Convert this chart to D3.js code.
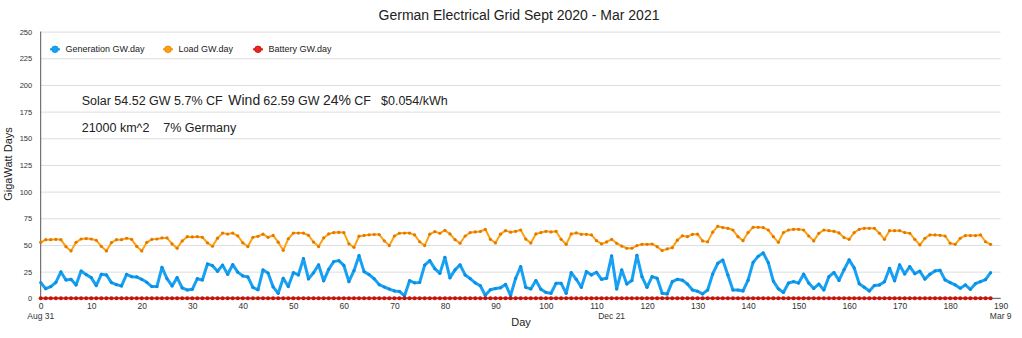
<!DOCTYPE html>
<meta charset="utf-8">
<style>
body { margin: 0; background: #fff; }
text { font-family: "Liberation Sans", Arial, Helvetica, sans-serif; fill: #222; }
.grid line { stroke: #dedede; stroke-width: 1px; }
.axis-line { stroke: #555; stroke-width: 1px; }
.tick text { fill: #333; }
</style>
<body>
<div id="chart"></div>
<script src="https://cdn.jsdelivr.net/npm/d3@7"></script>
<script>

// daily energy, GW.day, from Aug 31 (day 0)
var generation = [
  14.7, 9, 11, 15, 24.7, 17.2, 17.8, 12.5, 25.6, 22.2,
  19.4, 11.9, 22.5, 21.9, 14.7, 12.8, 11.6, 22.5, 20.3, 20,
  17.8, 15, 11, 11, 29, 18.4, 11.6, 19.4, 9.7, 7.8,
  8.4, 18.4, 17.2, 32.2, 30.6, 25.3, 31.1, 22.5, 31.5, 24.5,
  21, 20, 10.2, 8, 26.6, 23.7, 10.7, 4.7, 18.8, 11,
  24, 21.9, 37.2, 18.2, 23.9, 31.3, 16.4, 27.2, 34.4, 35.3,
  30.8, 15.6, 25.9, 40, 25, 22.2, 18.3, 12.8, 10.6, 8.7,
  6.9, 6.4, 2.2, 16.5, 14.5, 14.8, 31.1, 35.3, 27.8, 23.4,
  38.4, 19.2, 26.6, 31.4, 21.9, 18.5, 14.5, 11.8, 2.8, 8.1,
  9.1, 9.8, 13, 2.6, 18.8, 29.7, 10.3, 8.8, 16.6, 8.4,
  5.5, 4.7, 14, 14, 4.7, 24, 17.8, 10.3, 25, 21.9,
  24.4, 17.8, 18.8, 39.7, 8.8, 26.6, 13.4, 16.6, 40.3, 20.3,
  10.3, 20.3, 18.8, 4.7, 4.1, 15.6, 17.8, 17, 13.4, 7.8,
  6.6, 4.1, 7.8, 22.8, 32.8, 35.9, 21.9, 7.8, 7.8, 6.9,
  17, 33.7, 39.3, 42.5, 33.4, 16.1, 8.9, 5.5, 14.3, 15.6,
  14.3, 22.6, 14.3, 9.2, 13.4, 7.8, 20.3, 24.2, 16.8, 26.8,
  36, 28.5, 13.7, 10.3, 6.9, 12, 12.5, 15.6, 28.1, 16.4,
  31.3, 22.8, 29.7, 23.1, 25.4, 18, 22.6, 25.7, 26.2, 17.2,
  14.7, 12.5, 9.4, 12.5, 8.4, 13.7, 15.6, 17.5, 24
];

var load = [
  52.5, 55, 55, 55.3, 55, 48.4, 44.4, 52.5, 55.6, 56,
  55.6, 54.4, 48.7, 44.4, 52.2, 55, 55, 56.3, 55.3, 48.7,
  44.4, 52.5, 55.3, 55.6, 56.6, 56.6, 51, 46.9, 53.8, 57.8,
  57.5, 57.8, 57.2, 52, 48.8, 56.4, 61.1, 60.2, 61.1, 58.6,
  52, 48.5, 57.2, 58.1, 60.1, 57.2, 58.9, 52.6, 45, 55.8,
  61.1, 61.1, 61.1, 59.1, 52.7, 48.5, 56.6, 60.3, 61.6, 61.8,
  61.6, 51.1, 47.8, 58.2, 58.9, 59.5, 59.8, 59.8, 53.9, 49.4,
  58.4, 61, 61.1, 61.1, 59.4, 53, 49.4, 60.1, 62.5, 61,
  63.7, 60.3, 55, 51.6, 58.4, 61.6, 62.2, 62.6, 64.7, 55.3,
  51.9, 60.1, 63.4, 62, 62.8, 64, 55.5, 51.8, 60.3, 61.6,
  62.8, 62.2, 62.8, 55.3, 50.6, 60.3, 61.3, 60, 60, 59.4,
  54, 51, 52.8, 55.3, 51.6, 49, 46.9, 46.9, 49.4, 50.6,
  50.6, 50.9, 48.4, 44.7, 46.3, 47.5, 54.5, 58.6, 57.8, 60,
  60.1, 53.8, 52.9, 62, 67.5, 66.3, 65.6, 64, 57.8, 54,
  61.6, 66.6, 66.6, 66.3, 64, 57.8, 52.5, 61.6, 64, 64.7,
  64.7, 64, 58.4, 53.8, 60.9, 64, 63.4, 62.8, 61.3, 56.9,
  55.3, 61.6, 64.7, 65.6, 65.6, 65.6, 61, 55.3, 63.4, 63.4,
  63.4, 61.6, 61, 55.3, 50, 56.3, 59.4, 59.4, 59, 58.4,
  51.6, 50.6, 56.3, 58.8, 58.8, 58.8, 59.4, 53, 50.6
];

var battery = [
  0, 0, 0, 0, 0, 0, 0, 0, 0, 0, 0, 0, 0, 0, 0, 0, 0, 0, 0, 0,
  0, 0, 0, 0, 0, 0, 0, 0, 0, 0, 0, 0, 0, 0, 0, 0, 0, 0, 0, 0,
  0, 0, 0, 0, 0, 0, 0, 0, 0, 0, 0, 0, 0, 0, 0, 0, 0, 0, 0, 0,
  0, 0, 0, 0, 0, 0, 0, 0, 0, 0, 0, 0, 0, 0, 0, 0, 0, 0, 0, 0,
  0, 0, 0, 0, 0, 0, 0, 0, 0, 0, 0, 0, 0, 0, 0, 0, 0, 0, 0, 0,
  0, 0, 0, 0, 0, 0, 0, 0, 0, 0, 0, 0, 0, 0, 0, 0, 0, 0, 0, 0,
  0, 0, 0, 0, 0, 0, 0, 0, 0, 0, 0, 0, 0, 0, 0, 0, 0, 0, 0, 0,
  0, 0, 0, 0, 0, 0, 0, 0, 0, 0, 0, 0, 0, 0, 0, 0, 0, 0, 0, 0,
  0, 0, 0, 0, 0, 0, 0, 0, 0, 0, 0, 0, 0, 0, 0, 0, 0, 0, 0, 0,
  0, 0, 0, 0, 0, 0, 0, 0, 0
];

var seriesNames = ["Generation GW.day", "Load GW.day", "Battery GW.day"];
var xTicks = d3.range(0, 191, 10);
var yTicks = d3.range(0, 251, 25);
var dateLabels = [[0, "Aug 31"], [113, "Dec 21"], [190, "Mar 9"]];

var width = 1022, height = 338;
var margin = { top: 31.6, right: 21.3, bottom: 39.7, left: 40.7 };
var chartWidth = width - margin.left - margin.right;
var chartHeight = height - margin.top - margin.bottom;

var series = [
  { name: seriesNames[0], values: generation, line: "#17a1f4", dot: "#0b8ee0", lw: 3, r: 1.6 },
  { name: seriesNames[1], values: load, line: "#ffa10d", dot: "#e27800", lw: 2, r: 1.6 },
  { name: seriesNames[2], values: battery, line: "#e8261c", dot: "#c0140c", lw: 2, r: 2 }
];

var svg = d3.select("#chart").append("svg")
    .attr("width", width)
    .attr("height", height);

var g = svg.append("g")
    .attr("transform", "translate(" + margin.left + "," + margin.top + ")");

var x = d3.scaleLinear().domain([0, 190]).range([0, chartWidth]);
var y = d3.scaleLinear().domain([0, 250]).range([chartHeight, 0]);

// horizontal grid + y labels
var yAxis = g.append("g")
    .attr("class", "grid")
    .call(d3.axisLeft(y).tickValues(yTicks).tickSize(-chartWidth).tickPadding(8.5));
yAxis.select(".domain").remove();
yAxis.selectAll("text").style("font-size", "7.5px");

// x labels
var xAxis = g.append("g")
    .attr("transform", "translate(0," + chartHeight + ")")
    .call(d3.axisBottom(x).tickValues(xTicks).tickSize(0).tickPadding(5));
xAxis.select(".domain").remove();
xAxis.selectAll("text").style("font-size", "8.5px");

g.selectAll(".date-label")
    .data(dateLabels)
  .enter().append("text")
    .attr("class", "date-label")
    .attr("x", function(d) { return x(d[0]); })
    .attr("y", chartHeight + 20.5)
    .attr("text-anchor", "middle")
    .style("font-size", "8.5px")
    .style("fill", "#333")
    .text(function(d) { return d[1]; });

// axis lines
g.append("line").attr("class", "axis-line")
    .attr("x1", 0).attr("x2", 0).attr("y1", 0).attr("y2", chartHeight);
g.append("line").attr("class", "axis-line")
    .attr("x1", 0).attr("x2", chartWidth).attr("y1", chartHeight).attr("y2", chartHeight);

// lines and dots, battery drawn last so it sits on the axis
var line = d3.line()
    .x(function(d, i) { return x(i); })
    .y(function(d) { return y(d); });

series.forEach(function(s) {
    g.append("path")
        .datum(s.values)
        .attr("fill", "none")
        .attr("stroke", s.line)
        .attr("stroke-width", s.lw)
        .attr("stroke-linejoin", "round")
        .attr("d", line);

    g.append("g").selectAll("circle")
        .data(s.values)
      .enter().append("circle")
        .attr("cx", function(d, i) { return x(i); })
        .attr("cy", function(d) { return y(d); })
        .attr("r", s.r)
        .attr("fill", s.dot);
});

// legend
var legendX = [55, 168, 258];
var legend = svg.selectAll(".legend")
    .data(series)
  .enter().append("g")
    .attr("class", "legend")
    .attr("transform", function(d, i) { return "translate(" + legendX[i] + ",49.3)"; });

legend.append("line")
    .attr("x1", -5).attr("x2", 5)
    .attr("stroke", function(d) { return d.line; })
    .attr("stroke-width", 2);
legend.append("circle")
    .attr("r", 3.3)
    .attr("fill", function(d) { return d.line; })
    .attr("stroke", function(d) { return d.dot; })
    .attr("stroke-width", 0.8);
legend.append("text")
    .attr("x", 10.5)
    .attr("dy", "0.35em")
    .style("font-size", "9px")
    .text(function(d) { return d.name; });

// title and axis titles
svg.append("text")
    .attr("x", 519)
    .attr("y", 20)
    .attr("text-anchor", "middle")
    .style("font-size", "14px")
    .text("German Electrical Grid Sept 2020 - Mar 2021");

svg.append("text")
    .attr("x", 521)
    .attr("y", 326)
    .attr("text-anchor", "middle")
    .style("font-size", "11px")
    .text("Day");

svg.append("text")
    .attr("transform", "translate(11.5,164) rotate(-90)")
    .attr("text-anchor", "middle")
    .style("font-size", "11px")
    .text("GigaWatt Days");

// notes
var notes = [
    [81.7, 104.5, 12.5, "Solar 54.52 GW 5.7% CF"],
    [228.3, 104.5, 14, "Wind"],
    [263.3, 104.5, 12.5, "62.59 GW"],
    [323, 104.5, 14, "24%"],
    [354.3, 104.5, 12.5, "CF"],
    [381, 104.5, 12.5, "$0.054/kWh"],
    [81.7, 131.5, 12.5, "21000 km^2"],
    [163.3, 131.5, 12.5, "7% Germany"]
];

svg.selectAll(".note")
    .data(notes)
  .enter().append("text")
    .attr("class", "note")
    .attr("x", function(d) { return d[0]; })
    .attr("y", function(d) { return d[1]; })
    .style("font-size", function(d) { return d[2] + "px"; })
    .text(function(d) { return d[3]; });

</script>
</body>
